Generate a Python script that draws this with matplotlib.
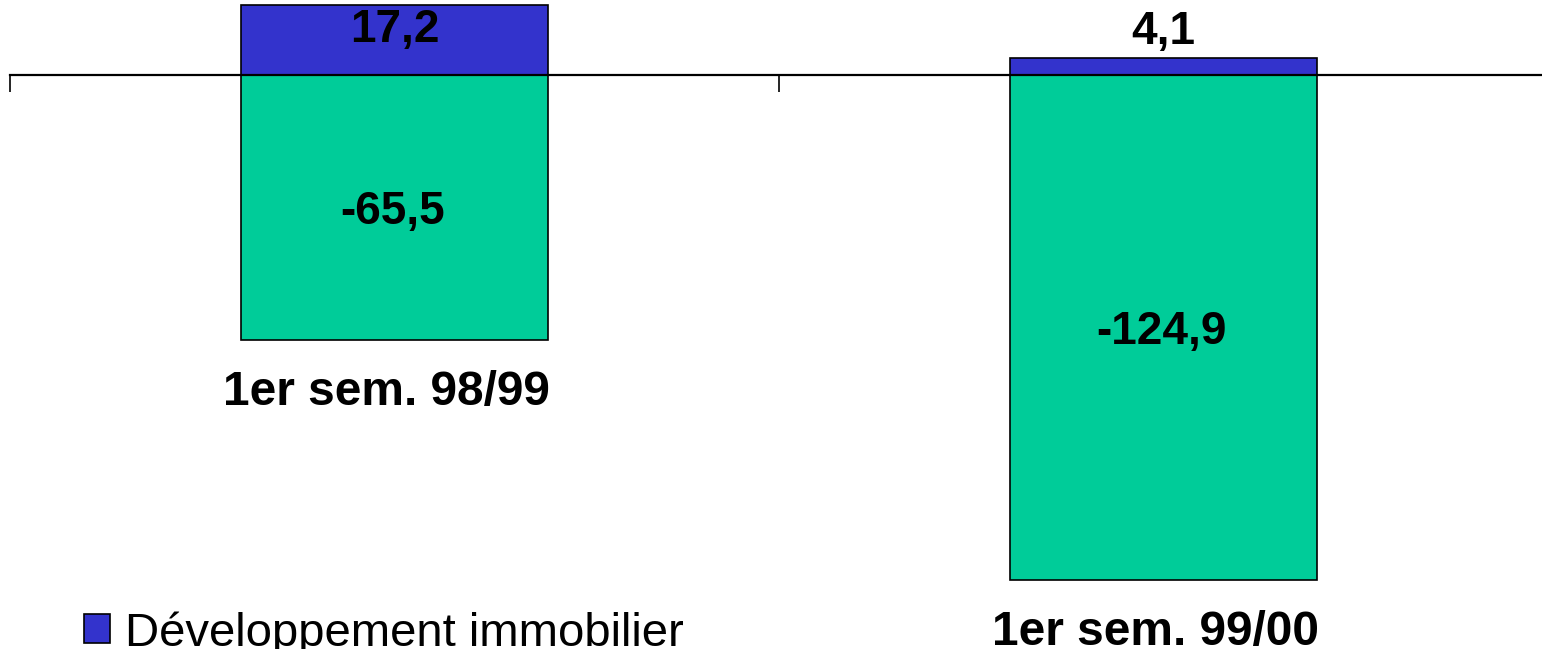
import matplotlib
matplotlib.use("Agg")
import matplotlib.pyplot as plt

# data
periodes = ["1er sem. 98/99", "1er sem. 99/00"]
dev_immo = [17.2, 4.1]
autres = [-65.5, -124.9]
lbl_dev = ["17,2", "4,1"]
lbl_autres = ["-65,5", "-124,9"]

bleu = "#3333CC"
vert = "#00CC99"

plt.rcParams["font.family"] = ["Liberation Sans", "DejaVu Sans"]

fig = plt.figure(figsize=(15.42, 6.49), dpi=100)
ax = fig.add_axes([0, 0, 1, 1])

x = list(range(len(periodes)))
b_dev = ax.bar(x, dev_immo, width=0.4, color=bleu, edgecolor="black", linewidth=1.2,
               label="Développement immobilier")
b_aut = ax.bar(x, autres, width=0.4, color=vert, edgecolor="black", linewidth=1.2)

ax.set_xlim(-0.513, 1.4922)
ax.set_ylim(-142.1, 18.56)

for s in ["top", "right", "left"]:
    ax.spines[s].set_visible(False)
ax.spines["bottom"].set_position(("data", 0))
ax.spines["bottom"].set_linewidth(1.6)
ax.spines["bottom"].set_zorder(3)
ax.spines["bottom"].set_bounds(-0.5, 1.6)
ax.set_xticks([-0.5, 0.5])
ax.set_xticklabels([])
ax.tick_params(axis="x", direction="out", length=12, width=1.2)
ax.set_yticks([])

px = 72 / fig.dpi  # one pixel in points
fs_val = 33
cap = 0.716 * fs_val

for i in x:
    # positive part: inside the bar if it is tall enough, above it otherwise
    if dev_immo[i] > 10:
        off = -4 * px - cap
    else:
        off = 14 * px
    ax.annotate(lbl_dev[i], (i, dev_immo[i]), xytext=(0, off), textcoords="offset points",
                ha="center", va="baseline", fontsize=fs_val, fontweight="bold")
    ax.annotate(lbl_autres[i], (i, autres[i] / 2), xytext=(-2 * px, -cap / 2), textcoords="offset points",
                ha="center", va="baseline", fontsize=fs_val, fontweight="bold")
    ax.annotate(periodes[i], (i, autres[i]), xytext=(-8 * px, -65 * px), textcoords="offset points",
                ha="center", va="baseline", fontsize=34.5, fontweight="bold")

fig.legend(handles=[b_dev], loc="upper left", bbox_to_anchor=(84 / 1542, 1 - 611 / 649),
           frameon=False, fontsize=34, handlelength=0.54, handleheight=0.56,
           handletextpad=0.33, borderpad=0, borderaxespad=0)

fig.savefig("out.png", dpi=100)
